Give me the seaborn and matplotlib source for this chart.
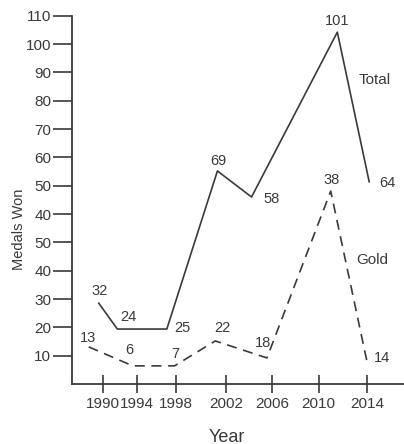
import numpy as np
import pandas as pd
import matplotlib
matplotlib.use("Agg")
import matplotlib.pyplot as plt
import seaborn as sns

sns.set_theme(style="ticks")
plt.rcParams["font.family"] = ["Liberation Sans", "DejaVu Sans"]

# tick labels as printed in the (scanned) source
years = ["1990", "1994", "1998", "2002", "2006", "2010", "2014"]
year_pos = [1990, 1993.1, 1996.6, 2001.2, 2005.4, 2009.6, 2014]
ytick_labels = ["10", "20", "30", "40", "50", "40", "50", "60", "70", "80", "90", "100", "110"]

# printed values
total_labels = [32, 24, 25, 69, 58, 101, 64]
gold_labels = [13, 6, 7, 22, 18, 38, 14]

# line vertices as drawn in the picture (axis units)
total_x = [1989.6, 1991.3, 1995.8, 2000.4, 2003.5, 2011.3, 2014.2]
total_y = [28.6, 19.4, 19.4, 75.2, 66.0, 124.2, 71.3]
gold_x = [1988.7, 1992.7, 1996.5, 2000.2, 2004.9, 2010.7, 2014.0]
gold_y = [13.1, 6.4, 6.4, 15.2, 9.2, 68.1, 7.8]

# label offsets (pixels) from each vertex
total_off = [(1, 12), (11, 12), (16, 1), (1, 10), (20, -2), (0, 11), (18, -1)]
gold_off = [(-1, 9), (-3, 16), (1, 12), (7, 13), (-4, 15), (1, 11), (15, 4)]

df = pd.concat([
    pd.DataFrame({"x": total_x, "y": total_y, "series": "Total"}),
    pd.DataFrame({"x": gold_x, "y": gold_y, "series": "Gold"}),
])

ink = "#3a3a3a"
fig = plt.figure(figsize=(4.04, 4.44), dpi=100)
ax = fig.add_axes([72 / 404, 1 - 384 / 444, 332 / 404, 368.3 / 444])

sns.lineplot(data=df, x="x", y="y", style="series", sort=False, estimator=None,
             dashes={"Total": "", "Gold": (6, 4)}, color=ink, linewidth=1.2,
             legend=False, ax=ax)

for xs, ys, labs, offs in [(total_x, total_y, total_labels, total_off),
                           (gold_x, gold_y, gold_labels, gold_off)]:
    for x, y, lab, (dx, dy) in zip(xs, ys, labs, offs):
        ax.annotate(str(lab), (x, y), xytext=(dx * 0.72, dy * 0.72),
                    textcoords="offset points", ha="center", va="center",
                    fontsize=10.5, color=ink)

ax.text(2014.7, 107.3, "Total", ha="center", va="center", fontsize=11, color=ink)
ax.text(2014.5, 43.8, "Gold", ha="center", va="center", fontsize=11, color=ink)

ax.set_xlim(1987.18, 2017.36)
ax.set_ylim(0, 130)
ax.set_xticks(year_pos)
ax.set_xticklabels(years)
ax.set_yticks(np.arange(10, 131, 10))
ax.set_yticklabels(ytick_labels)
for i, t in enumerate(ax.get_yticklabels()):
    if i in (1, 2):
        t.set_fontsize(13.5)
        t.set_color("#222222")

ax.tick_params(axis="x", direction="inout", length=13, width=1.2, pad=3,
               labelsize=11, colors=ink)
ax.tick_params(axis="y", direction="out", length=13.5, width=1.2, pad=1.5,
               labelsize=11, colors=ink)

sns.despine(ax=ax)
for s in ("left", "bottom"):
    ax.spines[s].set_linewidth(1.3)
    ax.spines[s].set_color(ink)

ax.set_xlabel("Year", fontsize=13, color=ink, va="center")
ax.set_ylabel("Medals Won", fontsize=10.5, color=ink, va="center")
ax.xaxis.set_label_coords(0.467, -0.144)
ax.yaxis.set_label_coords(-0.16, 0.42)

fig.savefig("out.png", dpi=100)
